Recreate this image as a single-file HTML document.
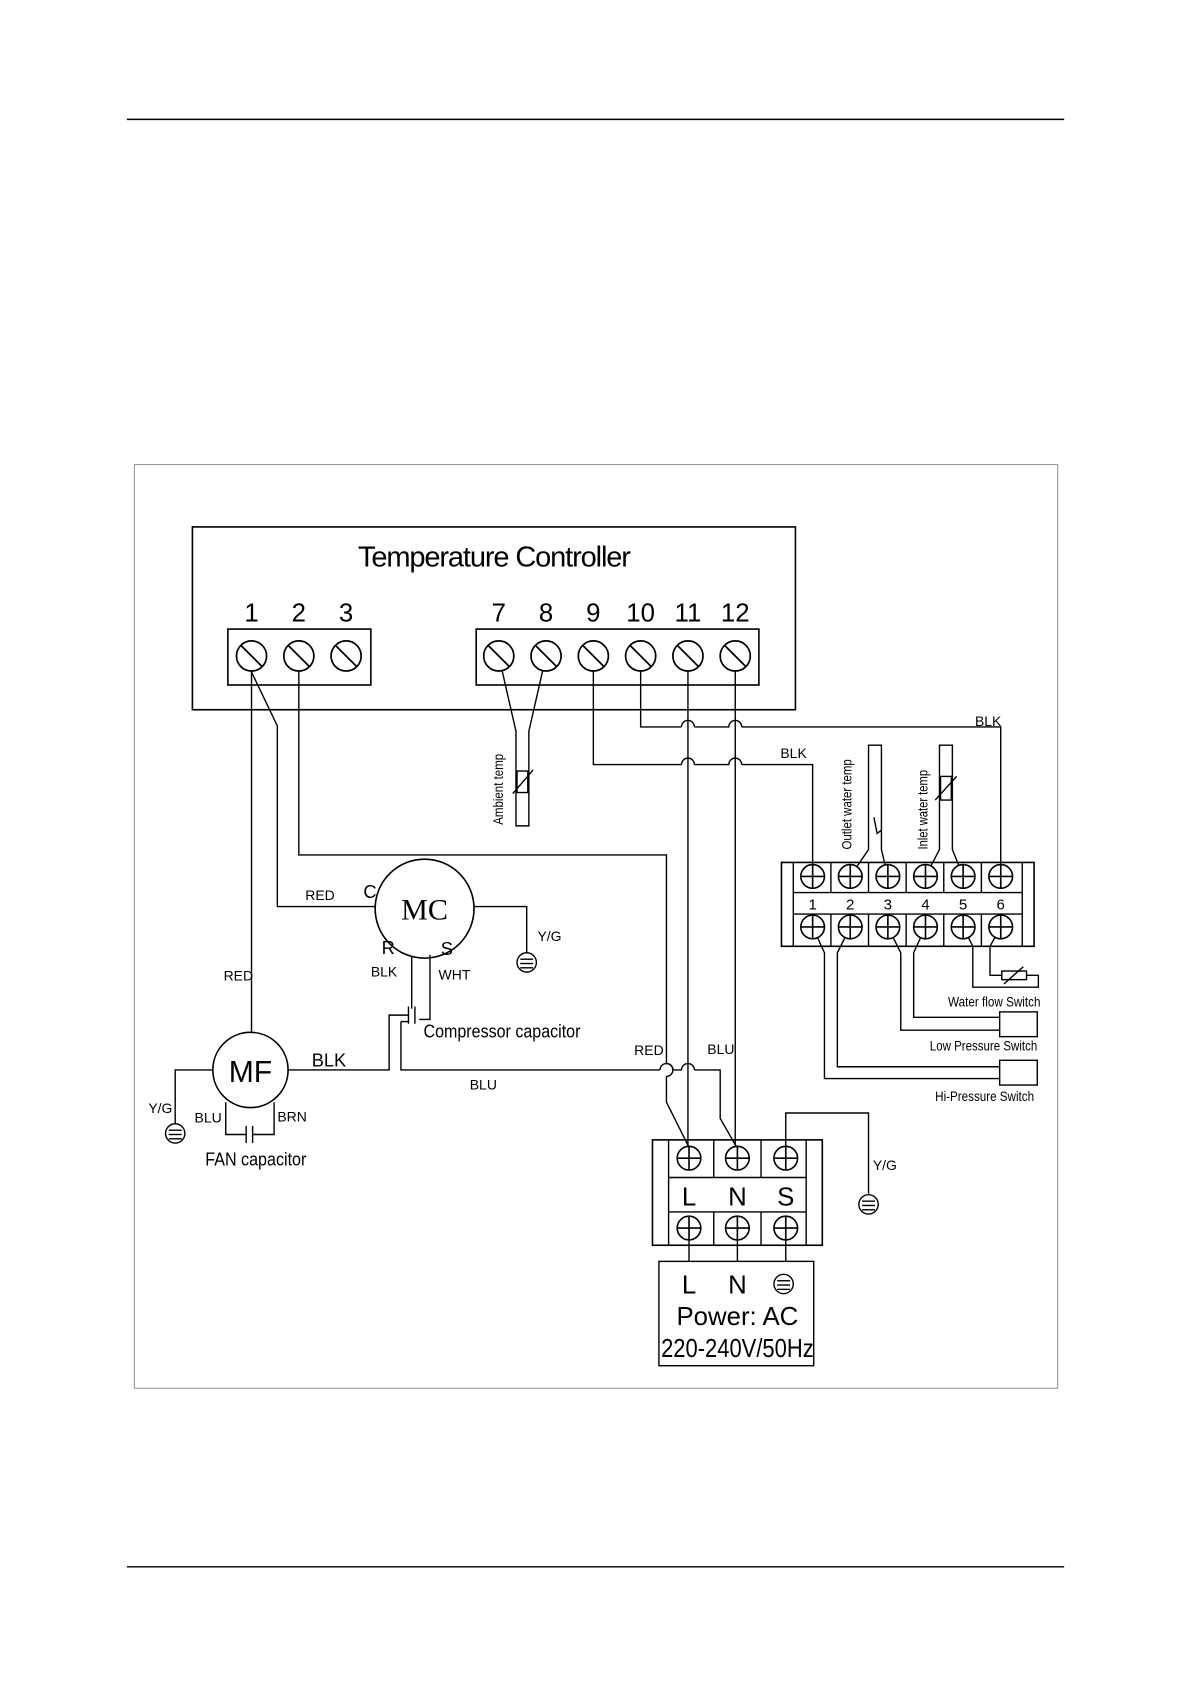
<!DOCTYPE html>
<html><head><style>
html,body{margin:0;padding:0;background:#fff}
svg{display:block}
text{font-family:"Liberation Sans",sans-serif;fill:#000}
</style></head><body>
<svg width="1191" height="1684" viewBox="0 0 1108 1566" preserveAspectRatio="none" xmlns="http://www.w3.org/2000/svg">
<defs>
<g id="sd"><circle r="14" fill="#fff" stroke="#000" stroke-width="1.6"/><line x1="-10" y1="-10" x2="10" y2="10" stroke="#000" stroke-width="1.6"/></g>
<g id="sx"><circle r="11" fill="#fff" stroke="#000" stroke-width="1.5"/><line x1="-11" y1="0" x2="11" y2="0" stroke="#000" stroke-width="1.5"/><line x1="0" y1="-11" x2="0" y2="11" stroke="#000" stroke-width="1.5"/></g>
<g id="gnd" stroke="#000" stroke-width="1.3" fill="none"><circle r="9"/><line x1="-6" y1="-3" x2="6" y2="-3"/><line x1="-6" y1="1" x2="6" y2="1"/><line x1="-6" y1="5" x2="6" y2="5"/></g>
</defs>
<g stroke="#000" fill="none" stroke-width="1.3">
<line x1="118" y1="111" x2="990" y2="111"/>
<line x1="118" y1="1457" x2="990" y2="1457"/>
<rect x="125" y="432" width="859" height="859" stroke="#999" stroke-width="1"/>
<rect x="179" y="490" width="561" height="170" stroke-width="1.5"/>
<rect x="212" y="585" width="133" height="52" stroke-width="1.5"/>
<rect x="443" y="585" width="263" height="52" stroke-width="1.5"/>
<line x1="234" y1="610" x2="234" y2="960"/>
<polyline points="234,625 258,675 258,843 350,843"/>
<polyline points="278,610 278,795 620,795 620,989"/>
<path d="M620,989 a6,6 0 0 1 0,12"/>
<polyline points="620,1001 620,1025 640,1065"/>
<polyline points="373,950 373,995 614,995"/>
<path d="M614,995 a6,6 0 0 1 12,0 M626,995 h8 a6,6 0 0 1 12,0"/>
<polyline points="646,995 670,995 670,1040 686,1068"/>
<line x1="640" y1="610" x2="640" y2="1070"/>
<line x1="684" y1="610" x2="684" y2="1070"/>
<polyline points="596,610 596,676 634,676"/>
<path d="M634,676 a6,6 0 0 1 12,0 M646,676 h32 a6,6 0 0 1 12,0"/>
<polyline points="690,676 931,676 931,815"/>
<polyline points="552,610 552,711 634,711"/>
<path d="M634,711 a6,6 0 0 1 12,0 M646,711 h32 a6,6 0 0 1 12,0"/>
<polyline points="690,711 756,711 756,815"/>
<polyline points="464,610 480,680 480,768 492,768 492,680 508,610"/>
<rect x="481" y="717" width="10" height="20" fill="#fff"/>
<line x1="477" y1="738" x2="496" y2="716"/>
<rect x="727" y="802" width="235" height="78" stroke-width="1.5"/>
<line x1="738" y1="802" x2="738" y2="880"/><line x1="951" y1="802" x2="951" y2="880"/>
<line x1="738" y1="830" x2="951" y2="830"/><line x1="738" y1="850" x2="951" y2="850"/>
<line x1="773" y1="802" x2="773" y2="830"/><line x1="808" y1="802" x2="808" y2="830"/><line x1="843" y1="802" x2="843" y2="830"/><line x1="878" y1="802" x2="878" y2="830"/><line x1="913" y1="802" x2="913" y2="830"/>
<line x1="773" y1="850" x2="773" y2="880"/><line x1="808" y1="850" x2="808" y2="880"/><line x1="843" y1="850" x2="843" y2="880"/><line x1="878" y1="850" x2="878" y2="880"/><line x1="913" y1="850" x2="913" y2="880"/>
<polyline points="791,815 808,790 808,693 820,693 820,790 826,815"/>
<polyline points="813,760 816,775 820,772"/>
<polyline points="861,815 874,790 874,693 886,693 886,790 896,815"/>
<rect x="875" y="722" width="10" height="22" fill="#fff"/>
<line x1="870" y1="744" x2="890" y2="722"/>
<polyline points="756,862 767,886 767,1003 930,1003"/>
<polyline points="791,862 779,886 779,992 930,992"/>
<polyline points="826,862 838,886 838,958 930,958"/>
<polyline points="861,862 850,886 850,946 930,946"/>
<polyline points="896,862 905,880 905,918 966,918 966,907 955,907"/>
<polyline points="931,862 921,880 921,907 932,907"/>
<rect x="932" y="903" width="23" height="8" fill="#fff"/>
<line x1="934" y1="915" x2="952" y2="899"/>
<rect x="930" y="941" width="35" height="23"/>
<rect x="930" y="986" width="35" height="23"/>
<circle cx="395" cy="845" r="46" fill="#fff" stroke-width="1.5"/>
<polyline points="441,843 490,843 490,886"/>
<polyline points="383,890 383,938"/>
<polyline points="400,888 400,948 390,948"/>
<line x1="380" y1="936" x2="380" y2="952"/><line x1="386" y1="936" x2="386" y2="952"/>
<polyline points="380,944 362,944 362,995 268,995"/>
<line x1="373" y1="950" x2="380" y2="950"/>
<circle cx="233" cy="995" r="35" fill="#fff" stroke-width="1.5"/>
<polyline points="198,995 163,995 163,1045"/>
<polyline points="210,1025 210,1055 229,1055"/><polyline points="255,1025 255,1055 235,1055"/>
<line x1="229" y1="1047" x2="229" y2="1063"/><line x1="235" y1="1047" x2="235" y2="1063"/>
<rect x="607" y="1060" width="158" height="98" stroke-width="1.5"/>
<line x1="622" y1="1060" x2="622" y2="1158"/><line x1="750" y1="1060" x2="750" y2="1158"/>
<line x1="622" y1="1095" x2="750" y2="1095"/><line x1="622" y1="1127" x2="750" y2="1127"/>
<line x1="664" y1="1060" x2="664" y2="1095"/><line x1="708" y1="1060" x2="708" y2="1095"/>
<line x1="664" y1="1127" x2="664" y2="1158"/><line x1="708" y1="1127" x2="708" y2="1158"/>
<polyline points="731,1070 731,1035 808,1035 808,1110"/>
<line x1="641" y1="1142" x2="641" y2="1173"/><line x1="686" y1="1142" x2="686" y2="1173"/><line x1="731" y1="1142" x2="731" y2="1173"/>
<rect x="613" y="1173" width="144" height="97"/>
</g>
<use href="#sd" x="234" y="610"/><use href="#sd" x="278" y="610"/><use href="#sd" x="322" y="610"/>
<use href="#sd" x="464" y="610"/><use href="#sd" x="508" y="610"/><use href="#sd" x="552" y="610"/><use href="#sd" x="596" y="610"/><use href="#sd" x="640" y="610"/><use href="#sd" x="684" y="610"/>
<g>
<use href="#sx" x="756" y="815"/><use href="#sx" x="791" y="815"/><use href="#sx" x="826" y="815"/><use href="#sx" x="861" y="815"/><use href="#sx" x="896" y="815"/><use href="#sx" x="931" y="815"/>
<use href="#sx" x="756" y="862"/><use href="#sx" x="791" y="862"/><use href="#sx" x="826" y="862"/><use href="#sx" x="861" y="862"/><use href="#sx" x="896" y="862"/><use href="#sx" x="931" y="862"/>
<use href="#sx" x="641" y="1077"/><use href="#sx" x="686" y="1077"/><use href="#sx" x="731" y="1077"/>
<use href="#sx" x="641" y="1142"/><use href="#sx" x="686" y="1142"/><use href="#sx" x="731" y="1142"/>
</g>
<use href="#gnd" x="490" y="895"/><use href="#gnd" x="163" y="1054"/><use href="#gnd" x="808" y="1120"/><use href="#gnd" x="729" y="1194"/>
<text x="460" y="527" font-size="27" text-anchor="middle" textLength="254">Temperature Controller</text>
<g font-size="24" text-anchor="middle">
<text x="234" y="578">1</text><text x="278" y="578">2</text><text x="322" y="578">3</text>
<text x="464" y="578">7</text><text x="508" y="578">8</text><text x="552" y="578">9</text><text x="596" y="578">10</text><text x="640" y="578">11</text><text x="684" y="578">12</text>
<text x="641" y="1121">L</text><text x="686" y="1121">N</text><text x="731" y="1121">S</text>
<text x="641" y="1203">L</text><text x="686" y="1203">N</text>
<text x="686" y="1232">Power: AC</text>
<text x="686" y="1262" textLength="142" lengthAdjust="spacingAndGlyphs">220-240V/50Hz</text>
</g>
<g font-size="14" text-anchor="middle">
<text x="756" y="846">1</text><text x="791" y="846">2</text><text x="826" y="846">3</text><text x="861" y="846">4</text><text x="896" y="846">5</text><text x="931" y="846">6</text>
</g>
<g font-size="13">
<text x="907" y="675">BLK</text><text x="726" y="705">BLK</text>
<text x="284" y="837">RED</text><text x="208" y="912">RED</text>
<text x="345" y="908">BLK</text><text x="408" y="911">WHT</text>
<text x="500" y="875">Y/G</text><text x="138" y="1035">Y/G</text><text x="812" y="1088">Y/G</text>
<text x="590" y="981">RED</text><text x="658" y="980">BLU</text><text x="437" y="1013">BLU</text>
<text x="181" y="1044">BLU</text><text x="258" y="1043">BRN</text>
<text x="882" y="936" textLength="86" lengthAdjust="spacingAndGlyphs">Water flow Switch</text>
<text x="865" y="977" textLength="100" lengthAdjust="spacingAndGlyphs">Low Pressure Switch</text>
<text x="870" y="1024" textLength="92" lengthAdjust="spacingAndGlyphs">Hi-Pressure Switch</text>
<text transform="translate(468,767) rotate(-90)" textLength="66" lengthAdjust="spacingAndGlyphs">Ambient temp</text>
<text transform="translate(792,790) rotate(-90)" textLength="84" lengthAdjust="spacingAndGlyphs">Outlet water temp</text>
<text transform="translate(863,790) rotate(-90)" textLength="74" lengthAdjust="spacingAndGlyphs">Inlet water temp</text>
</g>
<g font-size="17">
<text x="338" y="835">C</text><text x="355" y="887">R</text><text x="410" y="888">S</text>
<text x="290" y="992">BLK</text>
<text x="394" y="965" textLength="146" lengthAdjust="spacingAndGlyphs">Compressor capacitor</text>
<text x="191" y="1084" textLength="94" lengthAdjust="spacingAndGlyphs">FAN capacitor</text>
</g>
<text x="395" y="855" font-size="28" text-anchor="middle" style="font-family:'Liberation Serif',serif">MC</text>
<text x="233" y="1006" font-size="28" text-anchor="middle">MF</text>
</svg>
</body></html>
